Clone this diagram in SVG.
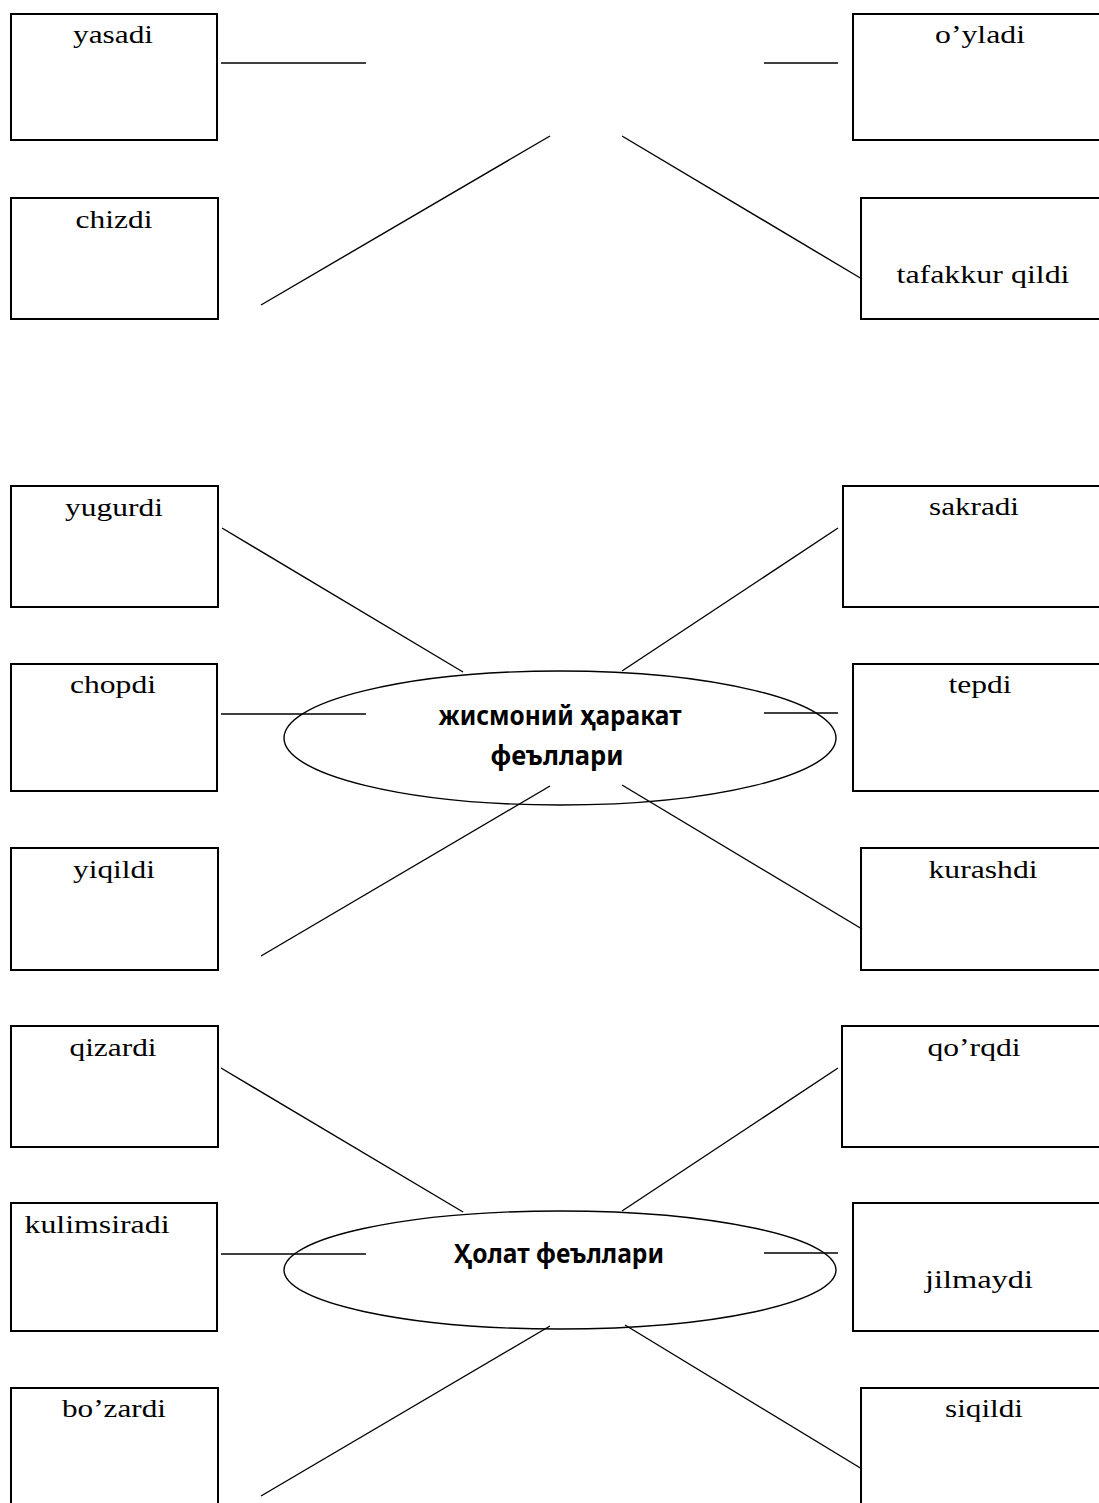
<svg xmlns="http://www.w3.org/2000/svg" width="1099" height="1503" viewBox="0 0 1099 1503">
<style>
.box{fill:none;stroke:#000;stroke-width:2}
.lbl{font-family:"Liberation Serif","Times New Roman",serif;font-size:26px;fill:#000;text-anchor:middle}
.ell{fill:none;stroke:#000;stroke-width:1.4}
.etxt{font-family:"Noto Sans","Open Sans",sans-serif;font-weight:bold;font-size:26px;fill:#000;text-anchor:middle}
.con line{stroke:#000;stroke-width:1.4}
</style>
<rect width="1099" height="1503" fill="#fff"/>
<g id="yasadi"><rect class="box" x="11" y="14" width="206" height="126"/><text class="lbl" transform="translate(113,43) scale(1.25,1)" textLength="64" lengthAdjust="spacingAndGlyphs">yasadi</text></g>
<g id="oyladi"><rect class="box" x="853" y="14" width="260" height="126"/><text class="lbl" transform="translate(980,43) scale(1.25,1)" textLength="72" lengthAdjust="spacingAndGlyphs">o’yladi</text></g>
<g id="chizdi"><rect class="box" x="11" y="198" width="207" height="121"/><text class="lbl" transform="translate(114,228) scale(1.25,1)" textLength="61.6" lengthAdjust="spacingAndGlyphs">chizdi</text></g>
<g id="tafakkur"><rect class="box" x="861" y="198" width="260" height="121"/><text class="lbl" transform="translate(983,283) scale(1.25,1)" textLength="138.4" lengthAdjust="spacingAndGlyphs">tafakkur qildi</text></g>

<g id="yugurdi"><rect class="box" x="11" y="486" width="207" height="121"/><text class="lbl" transform="translate(114,516) scale(1.25,1)" textLength="78.4" lengthAdjust="spacingAndGlyphs">yugurdi</text></g>
<g id="sakradi"><rect class="box" x="843" y="486" width="270" height="121"/><text class="lbl" transform="translate(974,515) scale(1.25,1)" textLength="72" lengthAdjust="spacingAndGlyphs">sakradi</text></g>
<g id="chopdi"><rect class="box" x="11" y="664" width="206" height="127"/><text class="lbl" transform="translate(113,693) scale(1.25,1)" textLength="68.8" lengthAdjust="spacingAndGlyphs">chopdi</text></g>
<g id="tepdi"><rect class="box" x="853" y="664" width="260" height="127"/><text class="lbl" transform="translate(980,693) scale(1.25,1)" textLength="50.4" lengthAdjust="spacingAndGlyphs">tepdi</text></g>
<g id="yiqildi"><rect class="box" x="11" y="848" width="207" height="122"/><text class="lbl" transform="translate(114,878) scale(1.25,1)" textLength="65.6" lengthAdjust="spacingAndGlyphs">yiqildi</text></g>
<g id="kurashdi"><rect class="box" x="861" y="848" width="260" height="122"/><text class="lbl" transform="translate(983,878) scale(1.25,1)" textLength="87.2" lengthAdjust="spacingAndGlyphs">kurashdi</text></g>
<g id="jismoniy"><ellipse class="ell" cx="560" cy="738" rx="276" ry="67"/><text class="etxt" x="560" y="725" textLength="243" lengthAdjust="spacingAndGlyphs">жисмоний ҳаракат</text><text class="etxt" x="557" y="765" textLength="133" lengthAdjust="spacingAndGlyphs">феъллари</text></g>

<g id="qizardi"><rect class="box" x="11" y="1026" width="207" height="121"/><text class="lbl" transform="translate(113,1056) scale(1.25,1)" textLength="69.6" lengthAdjust="spacingAndGlyphs">qizardi</text></g>
<g id="qorqdi"><rect class="box" x="842" y="1026" width="270" height="121"/><text class="lbl" transform="translate(974,1056) scale(1.25,1)" textLength="74.4" lengthAdjust="spacingAndGlyphs">qo’rqdi</text></g>
<g id="kulimsiradi"><rect class="box" x="11" y="1203" width="206" height="128"/><text class="lbl" transform="translate(97,1233) scale(1.25,1)" textLength="116" lengthAdjust="spacingAndGlyphs">kulimsiradi</text></g>
<g id="jilmaydi"><rect class="box" x="853" y="1203" width="260" height="128"/><text class="lbl" transform="translate(979,1288) scale(1.25,1)" textLength="86.4" lengthAdjust="spacingAndGlyphs">jilmaydi</text></g>
<g id="bozardi"><rect class="box" x="11" y="1388" width="207" height="130"/><text class="lbl" transform="translate(114,1417) scale(1.25,1)" textLength="83.2" lengthAdjust="spacingAndGlyphs">bo’zardi</text></g>
<g id="siqildi"><rect class="box" x="861" y="1388" width="260" height="130"/><text class="lbl" transform="translate(984,1417) scale(1.25,1)" textLength="62.4" lengthAdjust="spacingAndGlyphs">siqildi</text></g>
<g id="holat"><ellipse class="ell" cx="560" cy="1270" rx="276" ry="59"/><text class="etxt" x="559" y="1263" textLength="210" lengthAdjust="spacingAndGlyphs">Ҳолат феъллари</text></g>

<g id="connectors" class="con">
<line x1="221" y1="63" x2="366" y2="63"/>
<line x1="764" y1="63" x2="838" y2="63"/>
<line x1="261" y1="305" x2="550" y2="136"/>
<line x1="622" y1="136" x2="862" y2="279"/>
<line x1="222" y1="528" x2="463" y2="672"/>
<line x1="838" y1="528" x2="622" y2="671"/>
<line x1="221" y1="714" x2="366" y2="714"/>
<line x1="764" y1="713" x2="838" y2="713"/>
<line x1="550" y1="786" x2="261" y2="956"/>
<line x1="622" y1="785" x2="862" y2="929"/>
<line x1="221" y1="1068" x2="463" y2="1212"/>
<line x1="838" y1="1068" x2="622" y2="1211"/>
<line x1="221" y1="1254" x2="366" y2="1254"/>
<line x1="764" y1="1253" x2="838" y2="1253"/>
<line x1="550" y1="1326" x2="261" y2="1496"/>
<line x1="625" y1="1325" x2="862" y2="1469"/>
</g>
</svg>
